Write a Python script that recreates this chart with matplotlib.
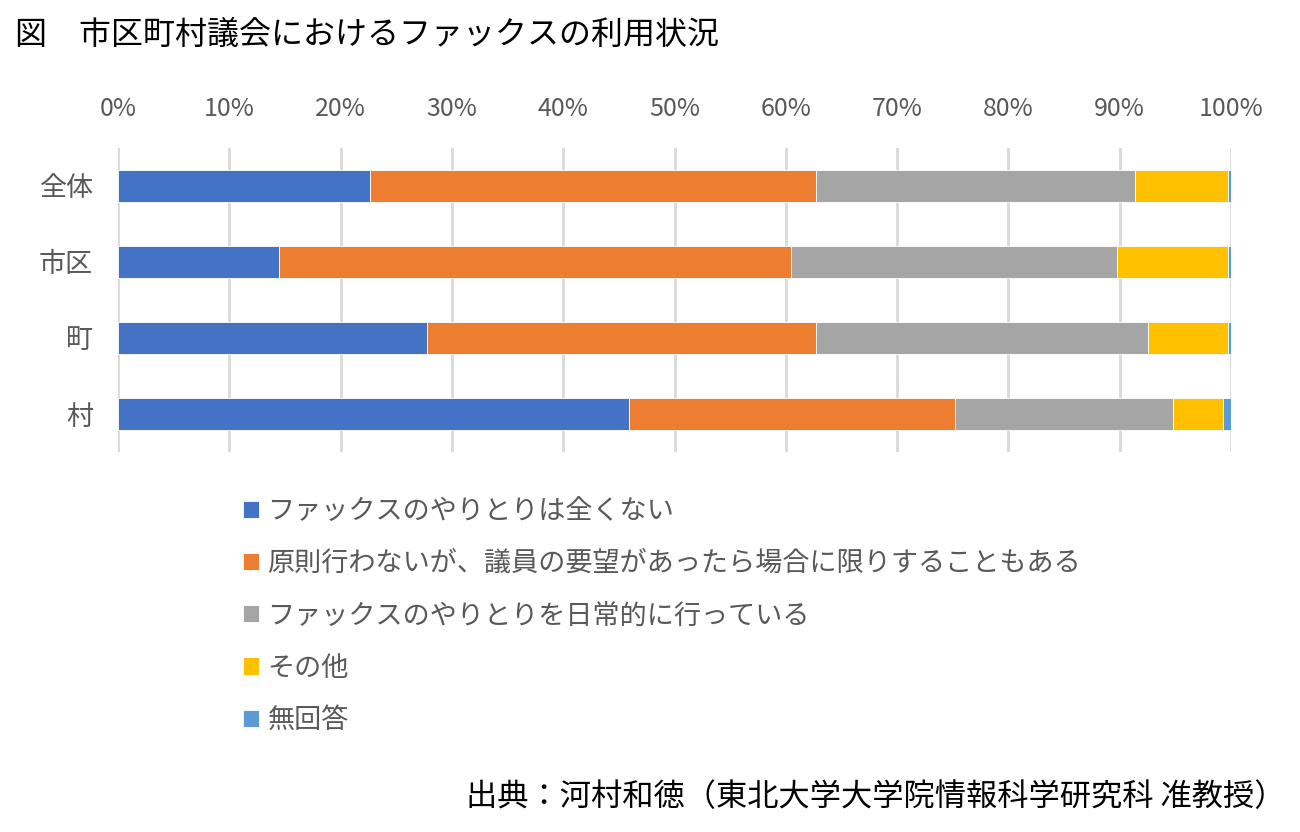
import numpy as np
import matplotlib
matplotlib.use("Agg")
import matplotlib.pyplot as plt
from matplotlib.ticker import MultipleLocator, PercentFormatter

plt.rcParams["font.family"] = ["Noto Sans CJK JP", "DejaVu Sans"]

categories = ["全体", "市区", "町", "村"]
series_labels = [
    "ファックスのやりとりは全くない",
    "原則行わないが、議員の要望があったら場合に限りすることもある",
    "ファックスのやりとりを日常的に行っている",
    "その他",
    "無回答",
]
# percent per category (全体, 市区, 町, 村)
none_at_all = [22.6, 14.5, 27.8, 45.9]
on_request = [40.1, 46.0, 34.9, 29.3]
daily = [28.7, 29.3, 29.8, 19.6]
other = [8.3, 9.9, 7.2, 4.5]
no_answer = [0.3, 0.3, 0.3, 0.7]

colors = ["#4472C4", "#ED7D31", "#A5A5A5", "#FFC000", "#5B9BD5"]
text_gray = "#595959"

fig = plt.figure(figsize=(13, 8.32), dpi=100)
ax = fig.add_axes([118 / 1300, 1 - 452 / 832, (1231 - 118) / 1300, (452 - 148) / 832])

y = np.arange(len(categories))
left = np.zeros(len(categories))
handles = []
for vals, lab, col in zip([none_at_all, on_request, daily, other, no_answer], series_labels, colors):
    b = ax.barh(y, vals, left=left, height=0.41, color=col, label=lab,
                edgecolor="white", linewidth=0.6)
    handles.append(b)
    left += np.array(vals)

ax.set_xlim(0, 100)
ax.set_ylim(3.5, -0.5)
ax.set_yticks(y)
ax.set_yticklabels(categories)
ax.xaxis.set_major_locator(MultipleLocator(10))
ax.xaxis.set_major_formatter(PercentFormatter(decimals=0))
ax.xaxis.tick_top()
ax.tick_params(axis="x", length=0, pad=19, labelsize=18, labelcolor=text_gray)
ax.tick_params(axis="y", length=0, pad=18, labelsize=19.5, labelcolor=text_gray)
ax.grid(axis="x", color="#D9D9D9", linewidth=2)
ax.set_axisbelow(True)
for s in ax.spines.values():
    s.set_visible(False)

fig.legend(handles=handles, loc="upper left", bbox_to_anchor=(243 / 1300, 1 - 498 / 832),
           frameon=False, fontsize=19.5, labelcolor=text_gray, labelspacing=0.93,
           handlelength=0.6, handleheight=0.6, handletextpad=0.3,
           borderpad=0, borderaxespad=0)

fig.text(15 / 1300, 1 - 35 / 832, "図　市区町村議会におけるファックスの利用状況",
         fontsize=23, color="black", va="center", ha="left")
fig.text(1285 / 1300, 1 - 797 / 832, "出典：河村和徳（東北大学大学院情報科学研究科 准教授）",
         fontsize=22.5, color="black", va="center", ha="right")

fig.savefig("out.png", dpi=100, facecolor="white")
